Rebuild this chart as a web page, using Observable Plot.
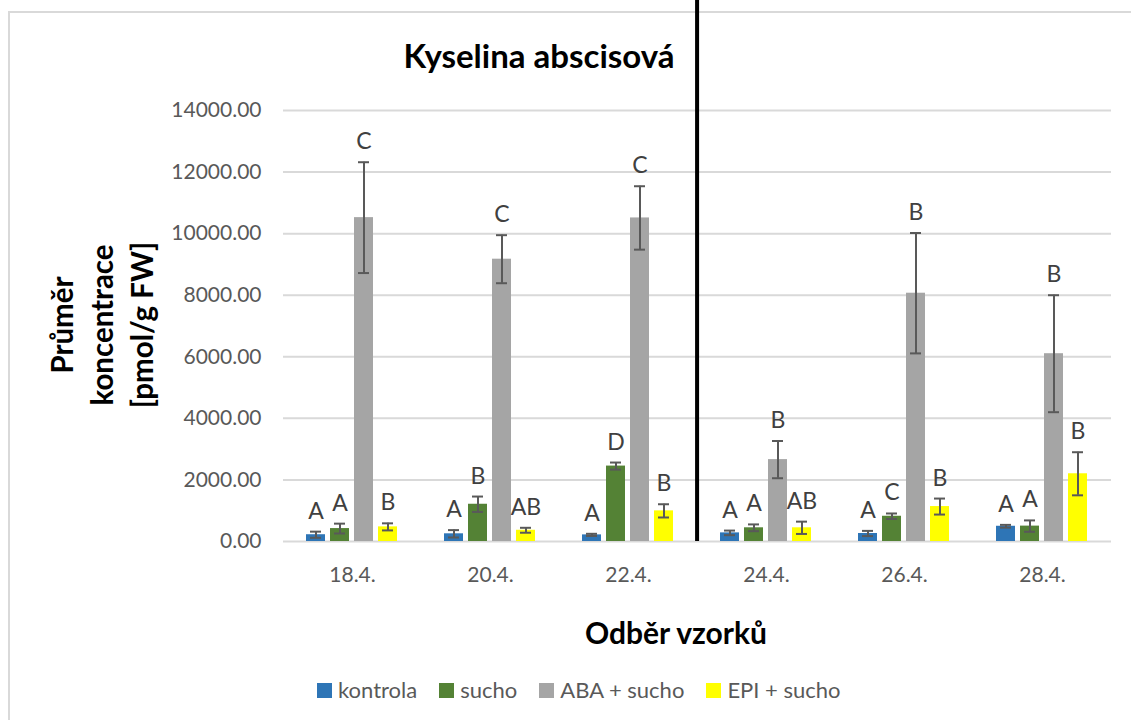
<!DOCTYPE html>
<html>
<head>
<meta charset="utf-8">
<script src="https://cdn.jsdelivr.net/npm/d3@7"></script>
<script src="https://cdn.jsdelivr.net/npm/@observablehq/plot@0.6"></script>
<style>
  body { margin: 0; background: #fff; font-family: Lato, "Open Sans", sans-serif; }
  #wrap { position: relative; width: 1131px; height: 720px; overflow: hidden; background: #fff; }
  #border { position: absolute; left: 8px; top: 11px; width: 2000px; height: 2000px;
            border-left: 2px solid #d9d9d9; border-top: 2px solid #d9d9d9; }
  #chart { position: absolute; left: 0; top: 0; }
  #title { position: absolute; left: 539px; top: 36px; transform: translateX(-50%);
           font-weight: bold; font-size: 33px; line-height: 1.2; color: #000; white-space: nowrap; }
  #ylabel { position: absolute; left: 102px; top: 325px; width: 340px; text-align: center;
            transform: translate(-50%, -50%) rotate(-90deg); font-weight: bold; font-size: 29.5px;
            line-height: 40px; color: #000; white-space: nowrap; }
  #xlabel { position: absolute; left: 676px; top: 614px; transform: translateX(-50%);
            font-weight: bold; font-size: 30px; line-height: 1.2; color: #000; white-space: nowrap; }
  #legend { position: absolute; left: 317px; top: 675px; display: flex; align-items: center;
            font-size: 22px; color: #595959; line-height: 30px; white-space: nowrap; }
  .item { display: flex; align-items: center; margin-right: 22px; }
  .sw { width: 15px; height: 15px; margin-right: 6px; }
</style>
</head>
<body>
<div id="wrap">
  <div id="border"></div>
  <div id="chart"></div>
  <div id="title">Kyselina abscisová</div>
  <div id="ylabel">Průměr<br>koncentrace<br>[pmol/g FW]</div>
  <div id="xlabel">Odběr vzorků</div>
  <div id="legend"></div>
</div>
<script>
// ---- data ----
const dates = ["18.4.", "20.4.", "22.4.", "24.4.", "26.4.", "28.4."];
const series = ["kontrola", "sucho", "ABA + sucho", "EPI + sucho"];
const colors = ["#2E75B6", "#548235", "#A5A5A5", "#FFFF00"];

const kontrola    = [220, 250, 215, 280, 260, 495];
const kontrolaErr = [100, 120, 35, 75, 85, 45];
const sucho       = [420, 1210, 2450, 445, 820, 500];
const suchoErr    = [160, 250, 115, 110, 90, 185];
const aba         = [10520, 9170, 10510, 2660, 8065, 6100];
const abaErr      = [1800, 780, 1030, 605, 1955, 1900];
const epi         = [475, 365, 995, 445, 1135, 2200];
const epiErr      = [115, 80, 215, 200, 260, 700];

const kontrolaLetters = ["A", "A", "A", "A", "A", "A"];
const suchoLetters    = ["A", "B", "D", "A", "C", "A"];
const abaLetters      = ["C", "C", "C", "B", "B", "B"];
const epiLetters      = ["B", "AB", "B", "AB", "B", "B"];

const yTicks = [0, 2000, 4000, 6000, 8000, 10000, 12000, 14000];

// ---- table ----
const values = [kontrola, sucho, aba, epi];
const errors = [kontrolaErr, suchoErr, abaErr, epiErr];
const letters = [kontrolaLetters, suchoLetters, abaLetters, epiLetters];
const rows = [];
series.forEach((s, i) => dates.forEach((d, j) => rows.push({
  date: d, series: s, value: values[i][j], err: errors[i][j], letter: letters[i][j]
})));

const W = 1131, H = 600, ML = 280, MR = 18, MT = 110, MB = 59;
const step = (W - ML - MR) / dates.length;

const chart = Plot.plot({
  width: W, height: H,
  marginLeft: ML, marginRight: MR, marginTop: MT, marginBottom: MB,
  style: { fontFamily: "Lato, 'Open Sans', sans-serif", fontSize: "21px", color: "#595959",
           background: "transparent", overflow: "visible" },
  fx: { domain: dates, padding: 0, axis: "bottom", tickSize: 0, tickPadding: 26, label: null },
  x: { domain: series, paddingInner: 0.2, paddingOuter: 0.876, axis: null },
  y: { domain: [0, 14000], ticks: yTicks, tickFormat: d => d.toFixed(2), tickSize: 0,
       tickPadding: 22, label: null },
  color: { domain: series, range: colors },
  marks: [
    Plot.gridY(yTicks, { stroke: "#d9d9d9", strokeOpacity: 1, strokeWidth: 2 }),
    Plot.barY(rows, { fx: "date", x: "series", y: "value", fill: "series" }),
    Plot.ruleX(rows, { fx: "date", x: "series", y1: d => d.value - d.err, y2: d => d.value + d.err,
                       stroke: "#595959", strokeWidth: 2 }),
    Plot.tickY(rows, { fx: "date", x: "series", y: d => d.value + d.err,
                       stroke: "#595959", strokeWidth: 2, insetLeft: 4, insetRight: 4 }),
    Plot.tickY(rows, { fx: "date", x: "series", y: d => d.value - d.err,
                       stroke: "#595959", strokeWidth: 2, insetLeft: 4, insetRight: 4 }),
    Plot.text(rows, { fx: "date", x: "series", y: d => d.value + d.err, text: "letter",
                      dy: -13, lineAnchor: "bottom", fill: "#404040", fontSize: 23 }),
    Plot.ruleX([dates[3]], { fx: d => d, x: null, dx: -step / 2, insetTop: -MT,
                             stroke: "#000", strokeWidth: 4 })
  ]
});
document.getElementById("chart").appendChild(chart);

// ---- legend ----
const legend = document.getElementById("legend");
series.forEach((s, i) => {
  const item = document.createElement("div");
  item.className = "item";
  const sw = document.createElement("div");
  sw.className = "sw";
  sw.style.background = colors[i];
  const t = document.createElement("span");
  t.textContent = s;
  item.appendChild(sw);
  item.appendChild(t);
  legend.appendChild(item);
});
</script>
</body>
</html>
